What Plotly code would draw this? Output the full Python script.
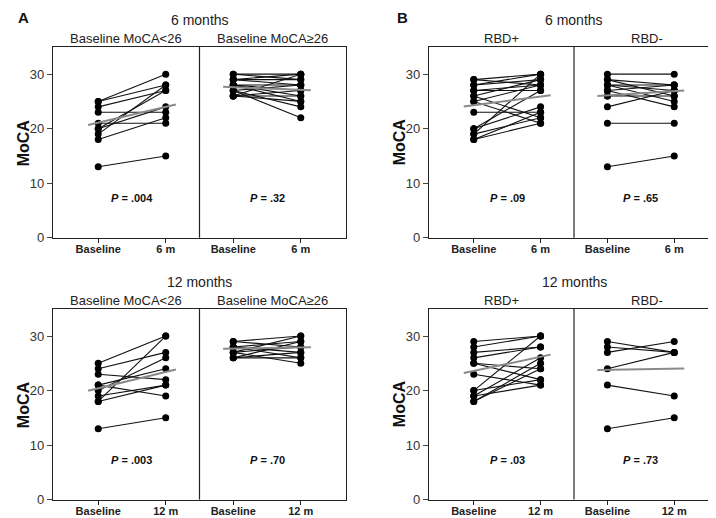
import plotly.graph_objects as go

FONT = "Liberation Sans, Arial, Helvetica, sans-serif"

# ---------------- data ----------------
# Panel A, 6 months
a6_lt26_base = [25, 25, 24, 23, 20, 19, 21, 20, 18, 13]
a6_lt26_fu = [30, 28, 27, 23, 27, 28, 21, 24, 22, 15]
a6_lt26_mean = [21.1, 24.0]
a6_ge26_base = [30, 30, 29, 29, 29, 28, 28, 28, 28, 27, 27, 27, 26, 26, 26, 26]
a6_ge26_fu = [30, 29, 30, 28, 29, 26, 27, 28, 25, 24, 28, 22, 26, 27, 25, 30]
a6_ge26_mean = [27.6, 27.1]
a6_p = [".004", ".32"]

# Panel B, 6 months
b6_rbdpos_base = [29, 29, 28, 28, 27, 27, 26, 26, 25, 25, 23, 20, 20, 19, 19, 18, 18]
b6_rbdpos_fu = [30, 28, 29, 30, 28, 27, 29, 22, 21, 28, 23, 27, 24, 30, 22, 23, 21]
b6_rbdpos_mean = [24.3, 25.9]
b6_rbdneg_base = [30, 29, 29, 28, 28, 28, 27, 27, 26, 26, 24, 21, 13]
b6_rbdneg_fu = [30, 28, 26, 27, 25, 28, 24, 28, 27, 26, 27, 21, 15]
b6_rbdneg_mean = [26.1, 26.9]
b6_p = [".09", ".65"]

# Panel A, 12 months
a12_lt26_base = [25, 24, 23, 18, 21, 21, 20, 19, 18, 13]
a12_lt26_fu = [30, 27, 22, 30, 19, 24, 26, 21, 21, 15]
a12_lt26_mean = [20.4, 23.4]
a12_ge26_base = [29, 29, 28, 28, 28, 27, 27, 27, 26, 26, 26]
a12_ge26_fu = [30, 28, 29, 26, 27, 30, 28, 25, 29, 27, 26]
a12_ge26_mean = [27.7, 27.9]
a12_p = [".003", ".70"]

# Panel B, 12 months
b12_rbdpos_base = [29, 28, 27, 26, 25, 25, 23, 20, 20, 19, 19, 18, 18]
b12_rbdpos_fu = [30, 30, 28, 28, 24, 22, 21, 30, 22, 26, 21, 25, 24]
b12_rbdpos_mean = [23.6, 26.2]
b12_rbdneg_base = [29, 28, 27, 24, 21, 13]
b12_rbdneg_fu = [27, 27, 29, 27, 19, 15]
b12_rbdneg_mean = [23.8, 24.0]
b12_p = [".03", ".73"]

period_titles = ["6 months", "12 months"]
group_titles_a = ["Baseline MoCA<26", "Baseline MoCA\u226526"]
group_titles_b = ["RBD+", "RBD-"]
fu_labels = ["6 m", "12 m"]
y_ticks = [0, 10, 20, 30]
panel_letters = ["A", "B"]

# ---------------- layout geometry ----------------
W, H = 716, 518
x_dom = {"A": [45 / W, 338 / W], "B": [421 / W, 711 / W]}
y_dom = {0: [(H - 233.3) / H, (H - 39.5) / H], 1: [(H - 499.3) / H, (H - 305.5) / H]}
X_LEFT, X_RIGHT = -0.67, 3.67

panels = [
    dict(ax=1, col="A", row=0, groups=[(a6_lt26_base, a6_lt26_fu, a6_lt26_mean), (a6_ge26_base, a6_ge26_fu, a6_ge26_mean)],
         p=a6_p, titles=group_titles_a),
    dict(ax=2, col="B", row=0, groups=[(b6_rbdpos_base, b6_rbdpos_fu, b6_rbdpos_mean), (b6_rbdneg_base, b6_rbdneg_fu, b6_rbdneg_mean)],
         p=b6_p, titles=group_titles_b),
    dict(ax=3, col="A", row=1, groups=[(a12_lt26_base, a12_lt26_fu, a12_lt26_mean), (a12_ge26_base, a12_ge26_fu, a12_ge26_mean)],
         p=a12_p, titles=group_titles_a),
    dict(ax=4, col="B", row=1, groups=[(b12_rbdpos_base, b12_rbdpos_fu, b12_rbdpos_mean), (b12_rbdneg_base, b12_rbdneg_fu, b12_rbdneg_mean)],
         p=b12_p, titles=group_titles_b),
]

fig = go.Figure()
annotations = []
shapes = []
layout_axes = {}

for pan in panels:
    n = pan["ax"]
    xa = "x" if n == 1 else f"x{n}"
    ya = "y" if n == 1 else f"y{n}"
    row = pan["row"]
    d0, d1 = x_dom[pan["col"]]
    span = d1 - d0
    units = X_RIGHT - X_LEFT
    for g, (base, fu, mean) in enumerate(pan["groups"]):
        bx, fx = 2 * g, 2 * g + 1
        xs, ys = [], []
        for b, f in zip(base, fu):
            xs += [bx, fx, None]
            ys += [b, f, None]
        fig.add_trace(go.Scatter(
            x=xs, y=ys, xaxis=xa, yaxis=ya, mode="lines+markers",
            line=dict(color="#111111", width=1.1),
            marker=dict(color="#000000", size=7),
            showlegend=False, hoverinfo="skip"))
        ext = 0.15
        slope = mean[1] - mean[0]
        fig.add_trace(go.Scatter(
            x=[bx - ext, fx + ext], y=[mean[0] - slope * ext, mean[1] + slope * ext],
            xaxis=xa, yaxis=ya, mode="lines",
            line=dict(color="#8a8a8a", width=2),
            showlegend=False, hoverinfo="skip"))
        annotations.append(dict(
            x=(bx + fx) / 2, y=7.3, xref=xa, yref=ya, xanchor="center", yanchor="middle",
            text=f"<b><i>P</i> = {pan['p'][g]}</b>", showarrow=False,
            font=dict(family=FONT, size=11, color="#111111")))
        # group title above subpanel
        gx0 = X_LEFT if g == 0 else 1.5
        gx1 = 1.5 if g == 0 else X_RIGHT
        cxp = d0 + span * (((gx0 + gx1) / 2 - X_LEFT) / units)
        ty = (H - (30.7 + 266 * row)) / H
        annotations.append(dict(
            x=cxp, y=ty, xref="paper", yref="paper", text=pan["titles"][g],
            showarrow=False, xanchor="center", yanchor="middle",
            font=dict(family=FONT, size=13, color="#222222")))
    # divider
    shapes.append(dict(type="line", xref=xa, yref=f"{ya} domain", x0=1.5, x1=1.5, y0=0, y1=1,
                       line=dict(color="#222222", width=1.2)))
    # period title
    annotations.append(dict(
        x=(d0 + d1) / 2, y=(H - (12 + 266 * row)) / H, xref="paper", yref="paper",
        text=period_titles[row], showarrow=False, xanchor="center", yanchor="middle",
        font=dict(family=FONT, size=14, color="#222222")))
    # y title
    annotations.append(dict(
        x=(d0 * W - 30) / W, y=(y_dom[row][0] + y_dom[row][1]) / 2, xref="paper", yref="paper",
        text="<b>MoCA</b>", textangle=-90, showarrow=False, xanchor="center", yanchor="middle",
        font=dict(family=FONT, size=16, color="#111111")))

    xkey = "xaxis" if n == 1 else f"xaxis{n}"
    ykey = "yaxis" if n == 1 else f"yaxis{n}"
    layout_axes[xkey] = dict(
        domain=x_dom[pan["col"]], anchor=ya, range=[X_LEFT, X_RIGHT],
        tickmode="array", tickvals=[0, 1, 2, 3],
        ticktext=[f"<b>{t}</b>" for t in ["Baseline", fu_labels[row], "Baseline", fu_labels[row]]],
        ticks="outside", ticklen=4, tickcolor="#222222", tickwidth=1.2,
        ticklabelstandoff=-3,
        showline=True, mirror=True, linecolor="#222222", linewidth=1.2,
        showgrid=False, zeroline=False, fixedrange=True,
        tickfont=dict(family=FONT, size=11, color="#222222"))
    layout_axes[ykey] = dict(
        domain=y_dom[row], anchor=xa, range=[0, 35],
        tickmode="array", tickvals=y_ticks,
        ticks="outside", ticklen=5, tickcolor="#444444", tickwidth=1,
        showline=True, mirror=True, linecolor="#222222", linewidth=1.2,
        showgrid=False, zeroline=False, fixedrange=True,
        tickfont=dict(family=FONT, size=13, color="#333333"))

for i, letter in enumerate(panel_letters):
    annotations.append(dict(
        x=(8 if i == 0 else 387) / W, y=1 - 10 / H, xref="paper", yref="paper",
        text=f"<b>{letter}</b>", showarrow=False, xanchor="left", yanchor="middle",
        font=dict(family=FONT, size=15, color="#111111")))

fig.update_layout(
    width=W, height=H, margin=dict(l=0, r=0, t=0, b=0),
    paper_bgcolor="white", plot_bgcolor="white",
    annotations=annotations, shapes=shapes, **layout_axes)

fig.write_html("out.html")
